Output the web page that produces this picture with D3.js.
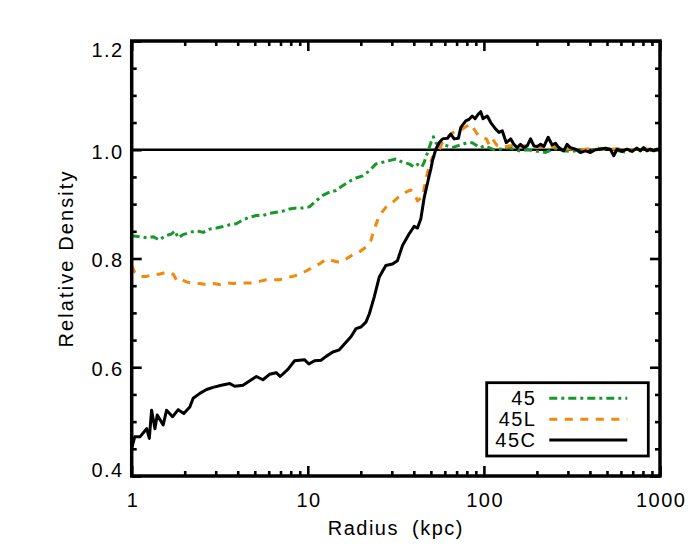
<!DOCTYPE html>
<html><head><meta charset="utf-8">
<script src="https://cdn.jsdelivr.net/npm/d3@7"></script>
<style>
body{margin:0;background:#fff;}
text{font-family:"Liberation Sans",Arial,Helvetica,sans-serif;}
</style></head>
<body><svg id="c" width="700" height="560"></svg>
<script>
// ---- data ----
const seriesNames = ["45", "45L", "45C"];
const seriesColors = ["#17992a", "#ef8a0c", "#000000"];

const r45C = [1.0,1.04,1.114,1.216,1.259,1.297,1.355,1.396,1.51,1.578,1.706,1.837,1.977,2.138,2.234,2.438,2.661,2.897,3.228,3.606,3.846,4.285,4.571,5.105,5.559,6.067,6.622,6.966,7.709,8.414,9.572,10.14,10.91,11.89,12.71,13.87,15.1,16.48,17.58,18.79,20.04,21.38,22.34,23.82,25.47,27.73,30.27,32.28,34.51,37.58,40.18,41.98,43.85,45.81,48.87,50.0,51.05,53.33,55.72,58.21,62.09,64.86,67.76,71.61,73.96,78.89,82.41,85.9,89.13,92.68,95.94,98.86,104.5,109.4,116.7,121.9,127.1,134.0,141.9,147.9,154.5,161.4,168.7,176.2,184.1,192.3,200.9,209.9,219.3,231.7,243.8,254.7,266.1,283.8,296.5,309.7,331.1,353.2,376.7,402.7,429.5,458.1,489.8,522.4,545.8,570.2,608.1,650.1,693.4,739.6,772.7,807.2,843.3,881.0,920.4,961.6,1000];
const d45C = [0.451,0.472,0.472,0.487,0.469,0.521,0.487,0.512,0.494,0.521,0.509,0.522,0.515,0.527,0.543,0.552,0.559,0.563,0.567,0.570,0.565,0.567,0.573,0.583,0.577,0.587,0.590,0.583,0.596,0.612,0.614,0.606,0.612,0.613,0.620,0.628,0.632,0.646,0.656,0.671,0.674,0.683,0.698,0.729,0.766,0.787,0.790,0.796,0.824,0.845,0.859,0.856,0.873,0.912,0.952,0.965,0.980,1.001,1.013,1.020,1.021,1.029,1.020,1.021,1.041,1.053,1.056,1.062,1.057,1.065,1.070,1.057,1.062,1.050,1.038,1.032,1.035,1.013,1.020,1.010,1.004,1.010,1.004,1.007,1.020,1.007,1.006,1.010,1.006,1.023,1.009,1.012,1.004,0.998,1.010,1.004,1.001,0.995,0.998,0.995,1.000,1.001,1.003,1.001,0.989,1.001,0.997,1.001,0.997,1.003,0.998,1.004,0.998,1.001,0.998,1.001,1.000];

const r45 = [1.0,1.114,1.216,1.327,1.435,1.552,1.683,1.758,1.837,1.959,2.138,2.333,2.547,2.773,3.027,3.304,3.606,3.926,4.285,4.677,5.105,5.559,6.067,6.622,7.211,7.87,8.59,9.376,10.21,11.14,12.16,13.27,14.45,15.78,17.22,18.79,20.46,22.34,24.38,26.61,28.97,31.62,34.51,37.58,40.18,41.98,44.36,45.81,47.86,50.0,51.64,53.33,55.72,58.21,62.09,66.22,70.63,75.51,80.54,85.9,91.83,95.94,100.2,106.9,114.0,121.9,130.0,138.7,147.9,158,178,200,224,251,282,316,355,398,447,501,562,631,708,794,891,1000];
const d45 = [0.842,0.840,0.838,0.840,0.834,0.842,0.845,0.851,0.838,0.844,0.848,0.851,0.848,0.854,0.856,0.859,0.862,0.864,0.871,0.876,0.879,0.879,0.883,0.885,0.887,0.891,0.893,0.893,0.895,0.906,0.916,0.922,0.925,0.934,0.942,0.948,0.952,0.961,0.974,0.977,0.980,0.983,0.977,0.974,0.968,0.973,0.968,0.977,0.995,1.013,1.024,1.013,1.007,1.010,1.007,1.004,1.007,1.010,1.013,1.013,1.007,1.004,1.007,1.004,1.000,1.001,1.002,1.004,1.001,0.998,1.000,0.997,0.995,1.002,0.998,0.997,1.000,0.998,1.003,1.001,0.999,0.996,1.000,1.001,1.000,1.001];

const r45L = [1.0,1.04,1.114,1.216,1.327,1.435,1.578,1.722,1.799,1.879,2.046,2.234,2.438,2.661,2.897,3.162,3.451,3.758,4.102,4.477,4.887,5.321,5.808,6.339,6.918,7.534,8.222,8.974,9.795,10.67,11.64,12.71,13.87,15.1,16.48,17.99,19.59,21.38,22.8,23.82,25.47,27.73,30.27,33.04,36.06,38.46,40.18,41.98,42.95,44.77,46.77,48.87,51.05,53.33,55.72,58.21,62.09,66.22,70.63,75.51,80.54,84.14,89.13,93.11,97.95,103.3,106.9,111.7,119.1,127.1,138.7,147.9,158,178,200,224,251,282,316,355,398,447,501,562,631,708,794,891,1000];
const d45L = [0.787,0.775,0.767,0.767,0.771,0.771,0.775,0.771,0.760,0.763,0.757,0.754,0.754,0.752,0.754,0.752,0.755,0.754,0.755,0.755,0.755,0.758,0.761,0.761,0.761,0.765,0.767,0.771,0.777,0.784,0.790,0.799,0.796,0.793,0.799,0.807,0.812,0.821,0.833,0.854,0.879,0.894,0.903,0.914,0.922,0.926,0.920,0.906,0.909,0.912,0.945,0.970,0.986,0.992,1.001,1.013,1.023,1.031,1.035,1.038,1.044,1.047,1.035,1.026,1.023,1.020,1.010,1.020,1.007,1.004,1.007,1.008,1.006,1.008,1.004,1.007,1.006,1.003,1.001,1.000,1.002,1.001,1.000,1.002,1.001,1.000,1.002,1.001,1.003];

const xMajor = [1, 10, 100, 1000];
const xMajorLabels = ["1", "10", "100", "1000"];
const xMinor = [2,3,4,5,6,7,8,9,20,30,40,50,60,70,80,90,200,300,400,500,600,700,800,900];
const yMajor = [0.4, 0.6, 0.8, 1.0, 1.2];
const yMinor = [0.45,0.5,0.55,0.65,0.7,0.75,0.85,0.9,0.95,1.05,1.1,1.15];
const refLevel = 1.0;

// ---- layout ----
const L = 131.7, R = 660, T = 41, B = 476;
const svg = d3.select("#c");
const x = d3.scaleLog().domain([1, 1000]).range([L, R]);
const y = d3.scaleLinear().domain([0.4, 1.2]).range([B, T]);
const FS = 20, LS = 1.5;

// reference line
svg.append("line").attr("x1", x(1)).attr("x2", x(1000))
  .attr("y1", y(refLevel)).attr("y2", y(refLevel))
  .attr("stroke", "#000").attr("stroke-width", 2.5);

svg.append("clipPath").attr("id", "pc").append("rect")
  .attr("x", L).attr("y", T).attr("width", R - L).attr("height", B - T);

const line = d3.line().x(d => x(d[0])).y(d => y(d[1]));
const dashes = ["8,4,3,4", "8,7.5", null];
const seriesR = [r45, r45L, r45C];
const seriesD = [d45, d45L, d45C];
for (let i = 0; i < 3; i++) {
  const pts = seriesR[i].map((r, j) => [r, seriesD[i][j]]);
  const p = svg.append("path").datum(pts).attr("d", line)
    .attr("fill", "none").attr("stroke", seriesColors[i])
    .attr("stroke-width", 3).attr("stroke-linejoin", "round")
    .attr("clip-path", "url(#pc)");
  if (dashes[i]) p.attr("stroke-dasharray", dashes[i]);
}

// axes
function styleAxis(g) {
  g.select(".domain").remove();
  g.selectAll(".tick line").attr("stroke", "#000").attr("stroke-width", 2.6);
  g.selectAll("text").attr("font-size", FS).attr("fill", "#000")
    .attr("font-family", '"Liberation Sans",Arial,sans-serif')
    .style("letter-spacing", LS + "px");
}
const fmtY = d3.format(".1f");
svg.append("g").attr("transform", `translate(0,${B})`)
  .call(d3.axisBottom(x).tickValues(xMajor).tickSize(-10).tickPadding(17)
    .tickFormat((d, i) => xMajorLabels[i])).call(styleAxis)
  .selectAll("text").attr("dx", LS / 2);
svg.append("g").attr("transform", `translate(0,${B})`)
  .call(d3.axisBottom(x).tickValues(xMinor).tickSize(-5).tickFormat("")).call(styleAxis);
svg.append("g").attr("transform", `translate(0,${T})`)
  .call(d3.axisTop(x).tickValues(xMajor).tickSize(-10).tickFormat("")).call(styleAxis);
svg.append("g").attr("transform", `translate(0,${T})`)
  .call(d3.axisTop(x).tickValues(xMinor).tickSize(-5).tickFormat("")).call(styleAxis);

const gl = svg.append("g").attr("transform", `translate(${L},0)`)
  .call(d3.axisLeft(y).tickValues(yMajor).tickSize(-10).tickPadding(8).tickFormat(fmtY)).call(styleAxis);
gl.selectAll("text").attr("dy", d => d === 1.2 ? "0.75em" : d === 0.4 ? "0.02em" : "0.42em");
svg.append("g").attr("transform", `translate(${L},0)`)
  .call(d3.axisLeft(y).tickValues(yMinor).tickSize(-5).tickFormat("")).call(styleAxis);
svg.append("g").attr("transform", `translate(${R},0)`)
  .call(d3.axisRight(y).tickValues(yMajor).tickSize(-10).tickFormat("")).call(styleAxis);
svg.append("g").attr("transform", `translate(${R},0)`)
  .call(d3.axisRight(y).tickValues(yMinor).tickSize(-5).tickFormat("")).call(styleAxis);

// frame
svg.append("rect").attr("x", L).attr("y", T).attr("width", R - L).attr("height", B - T)
  .attr("fill", "none").attr("stroke", "#000").attr("stroke-width", 3.5);

// titles
svg.append("text").attr("x", (L + R) / 2).attr("y", 535).attr("text-anchor", "middle")
  .attr("font-size", FS).style("letter-spacing", LS + "px").style("word-spacing", "6px")
  .text("Radius (kpc)");
svg.append("text").attr("transform", `translate(73,${(T + B) / 2}) rotate(-90)`)
  .attr("text-anchor", "middle").attr("font-size", FS).style("letter-spacing", "2.1px")
  .text("Relative Density");

// legend
const lg = svg.append("g");
lg.append("rect").attr("x", 486.7).attr("y", 382.7).attr("width", 161.6).attr("height", 73.3)
  .attr("fill", "#fff").attr("stroke", "#000").attr("stroke-width", 2.8);
const legY = [398.3, 419.3, 440];
seriesNames.forEach((n, i) => {
  lg.append("text").attr("x", 536.5).attr("y", legY[i] + 6.5).attr("text-anchor", "end")
    .attr("font-size", FS).style("letter-spacing", LS + "px").text(n);
  const l = lg.append("line").attr("x1", 549.3).attr("x2", 627.3)
    .attr("y1", legY[i]).attr("y2", legY[i])
    .attr("stroke", seriesColors[i]).attr("stroke-width", 3);
  if (dashes[i]) l.attr("stroke-dasharray", dashes[i]);
});
</script></body></html>
